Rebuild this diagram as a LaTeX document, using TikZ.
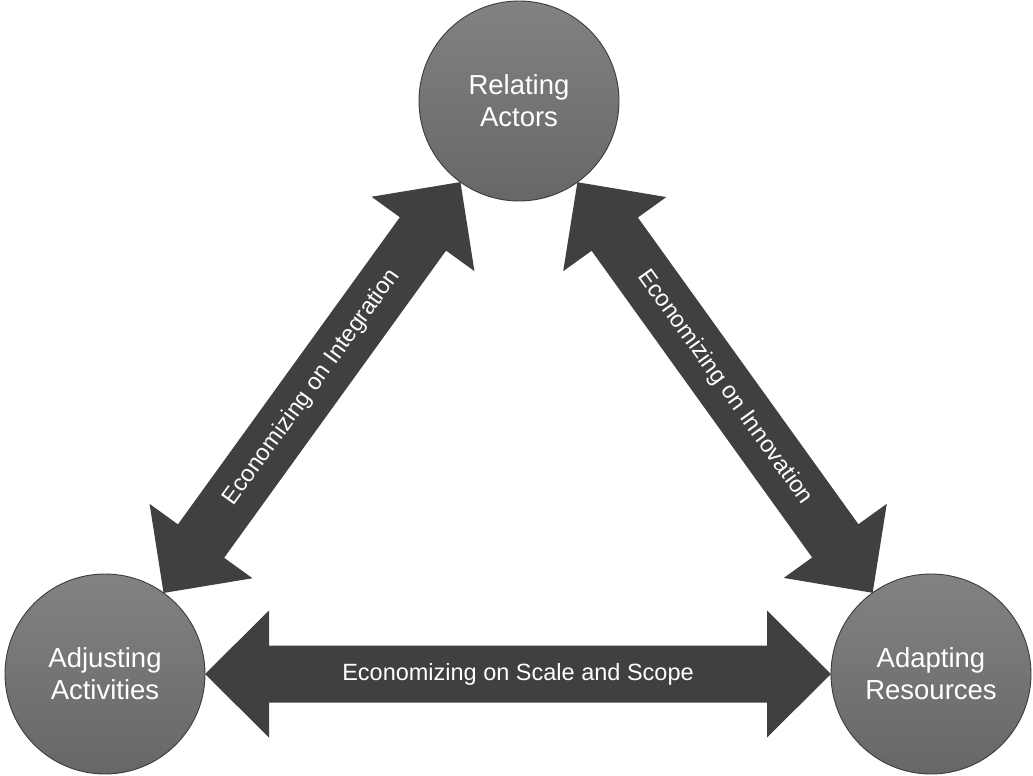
\documentclass[tikz,border=0pt]{standalone}
\usepackage{fontspec}
\setmainfont{Liberation Sans}
\usetikzlibrary{calc,backgrounds}

\definecolor{bandgray}{HTML}{404040}
\definecolor{ballTop}{HTML}{828282}
\definecolor{ballBot}{HTML}{676767}
\definecolor{ballEdge}{HTML}{3C3C3C}

\tikzset{
  ball/.style={circle, minimum size=200pt, inner sep=0pt, draw=ballEdge,
    line width=0.9pt, top color=ballTop, bottom color=ballBot,
    text=white, align=center, font=\fontsize{27.5}{32}\selectfont},
  bandtext/.style={text=white, font=\fontsize{23.5}{28}\selectfont},
}

% Thick double-headed block arrow between two round nodes of radius 100pt.
% Head length 64pt, head width 127pt, shaft width 57pt.
\newcommand\linkband[3]{%
  \coordinate (ta) at ($(#1)!100pt!(#2)$);
  \coordinate (tb) at ($(#2)!100pt!(#1)$);
  \fill[bandgray] (ta)
    -- ($(ta)!64pt!(tb)!63.5pt!90:(tb)$)
    -- ($(ta)!64pt!(tb)!28.5pt!90:(tb)$)
    -- ($(tb)!64pt!(ta)!28.5pt!-90:(ta)$)
    -- ($(tb)!64pt!(ta)!63.5pt!-90:(ta)$)
    -- (tb)
    -- ($(tb)!64pt!(ta)!63.5pt!90:(ta)$)
    -- ($(tb)!64pt!(ta)!28.5pt!90:(ta)$)
    -- ($(ta)!64pt!(tb)!28.5pt!-90:(tb)$)
    -- ($(ta)!64pt!(tb)!63.5pt!-90:(tb)$)
    -- cycle;
  \path (ta) -- (tb) node[midway, sloped, bandtext] {#3};
}

\begin{document}
\begin{tikzpicture}[x=1pt, y=-1pt]
  \useasboundingbox (0,0) rectangle (1033,776);

  \node[ball] (actors)     at (519,101) {Relating\\Actors};
  \node[ball] (activities) at (105,674) {Adjusting\\Activities};
  \node[ball] (resources)  at (931,674) {Adapting\\Resources};

  \begin{scope}[on background layer]
    \linkband{actors}{activities}{Economizing on Integration}
    \linkband{actors}{resources}{Economizing on Innovation}
    \linkband{activities}{resources}{Economizing on Scale and Scope}
  \end{scope}
\end{tikzpicture}
\end{document}
